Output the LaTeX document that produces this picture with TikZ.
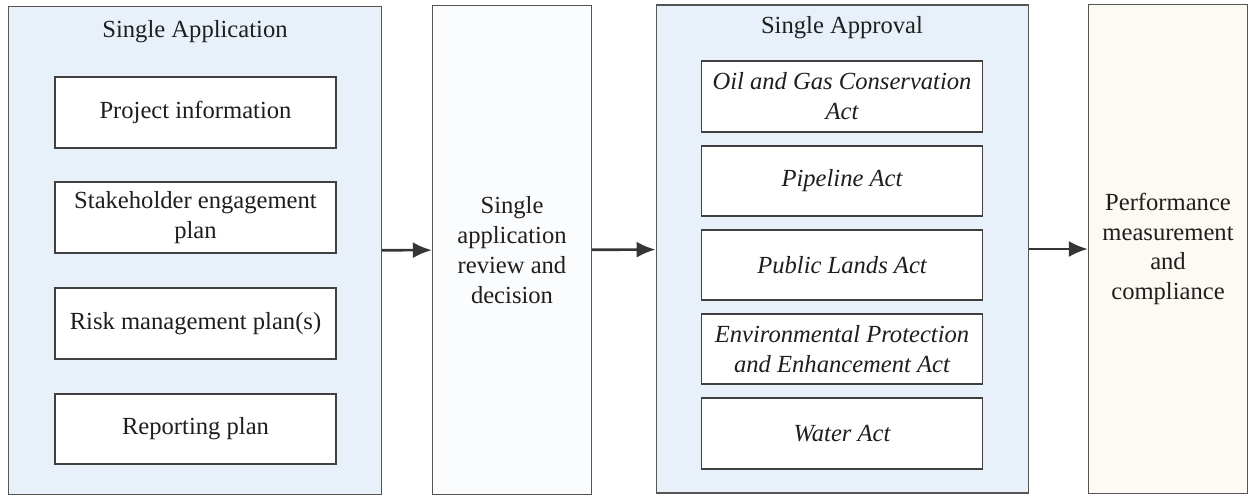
\documentclass[tikz,border=0pt]{standalone}
\usepackage{fontspec}
\setmainfont{Liberation Serif}
\usepackage{tikz}
\usetikzlibrary{arrows.meta,positioning}
\definecolor{sapBlue}{HTML}{E8F1FA}
\definecolor{sapCream}{HTML}{FCFAF2}
\definecolor{sapWhite}{HTML}{FBFCFD}
\definecolor{sapEdge}{HTML}{555555}
\definecolor{sapInk}{HTML}{1E1E1E}

\begin{document}
\begin{tikzpicture}[font=\fontsize{14}{17}\selectfont,text=sapInk,
    group/.style={draw=sapEdge,fill=sapBlue,line width=0.7pt,minimum width=7.45cm,
                  minimum height=9.76cm,inner sep=0pt},
    stage/.style={draw=sapEdge,line width=0.7pt,minimum width=3.18cm,
                  minimum height=9.78cm,align=center,inner sep=2pt},
    item/.style={draw=sapInk!85,fill=white,line width=0.9pt,minimum width=5.62cm,
                 minimum height=1.41cm,align=center,inner sep=2pt},
    act/.style={item,font=\fontsize{14}{17}\selectfont\itshape},
    arr/.style={-{Latex[length=3.8mm,width=3.2mm]},sapInk!90,line width=1.5pt}]

  \useasboundingbox (0,0) rectangle (25.04,-9.92);

  \node[group] (appl) at (3.90,-5.01) {};
  \node[stage,fill=sapWhite] (revw) at (10.24,-5.00) {Single\\application\\review and\\decision};
  \node[group] (aprv) at (16.85,-4.98) {};
  \node[stage,fill=sapCream] (perf) at (23.36,-4.98) {Performance\\measurement\\and\\compliance};

  \node (applT) at (3.90,-0.64) {Single Application};
  \node[item] (pinf) at (3.91,-2.25) {Project information};
  \node[item] (stak) at (3.91,-4.35) {Stakeholder engagement\\plan};
  \node[item] (risk) at (3.91,-6.47) {Risk management plan(s)};
  \node[item] (rept) at (3.91,-8.58) {Reporting plan};

  \node (aprvT) at (16.84,-0.56) {Single Approval};
  \node[act] (ogca) at (16.84,-1.93) {Oil and Gas Conservation\\Act};
  \node[act] (pipe) at (16.84,-3.62) {Pipeline Act};
  \node[act] (plan) at (16.84,-5.30) {Public Lands Act};
  \node[act] (epea) at (16.84,-6.98) {Environmental Protection\\and Enhancement Act};
  \node[act] (watr) at (16.84,-8.67) {Water Act};

  \draw[arr] (appl) -- (revw);
  \draw[arr] (revw) -- (aprv);
  \draw[arr] (aprv) -- (perf);
\end{tikzpicture}
\end{document}
